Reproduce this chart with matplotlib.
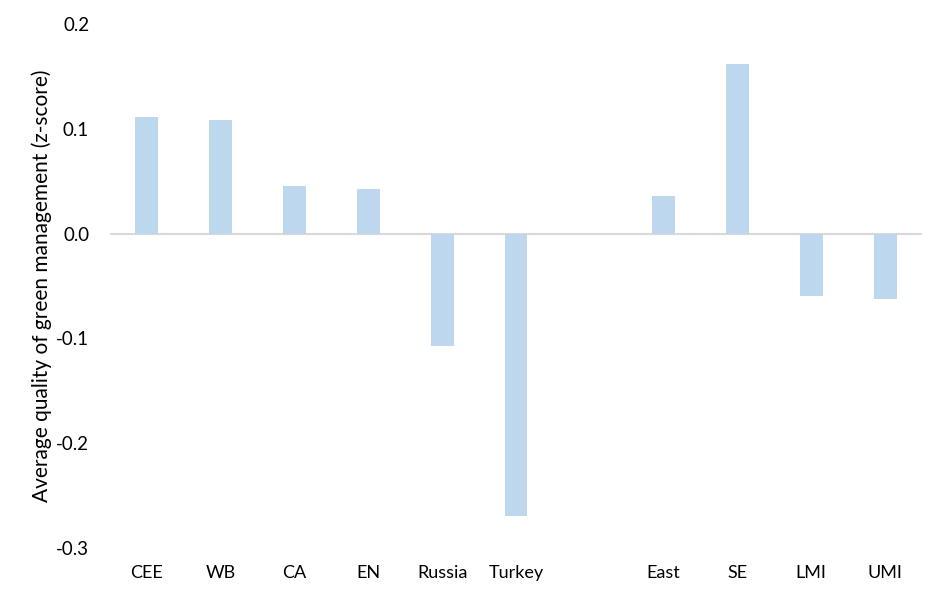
import matplotlib
matplotlib.use("Agg")
import matplotlib.pyplot as plt
import numpy as np

plt.rcParams['font.family'] = ['Lato', 'DejaVu Sans']

group1 = ["CEE", "WB", "CA", "EN", "Russia", "Turkey"]
values1 = [0.111, 0.108, 0.045, 0.0425, -0.107, -0.269]
group2 = ["East", "SE", "LMI", "UMI"]
values2 = [0.036, 0.162, -0.0595, -0.0625]

yticks = [-0.3, -0.2, -0.1, 0.0, 0.1, 0.2]
ylabel = "Average quality of green management (z-score)"

fig = plt.figure(figsize=(9.47, 6), dpi=100)
ax = fig.add_axes([110/947, 1-548/600, (922-110)/947, (548-24)/600])

x1 = np.arange(len(group1))
x2 = np.arange(len(group2)) + len(group1) + 1
labels = group1 + group2
xs = np.concatenate([x1, x2])
vals = values1 + values2

ax.bar(xs, vals, width=0.31, color="#BDD7EE", zorder=2)
ax.axhline(0, color="#D9D9D9", linewidth=1.5, zorder=1)

ax.set_xlim(-0.5, len(group1) + len(group2) + 0.5)
ax.set_ylim(-0.3, 0.2)
ax.set_yticks(yticks)
ax.set_yticklabels([f"{t:.1f}" for t in yticks], fontsize=13.5)
ax.set_xticks(xs)
ax.set_xticklabels(labels, fontsize=13)
ax.tick_params(axis='both', length=0)
ax.tick_params(axis='x', pad=12)
ax.tick_params(axis='y', pad=15)
for s in ax.spines.values():
    s.set_visible(False)
ax.set_ylabel(ylabel, fontsize=15)
ax.yaxis.set_label_coords(-0.072, 0.5)

fig.savefig("out.png", dpi=100)
